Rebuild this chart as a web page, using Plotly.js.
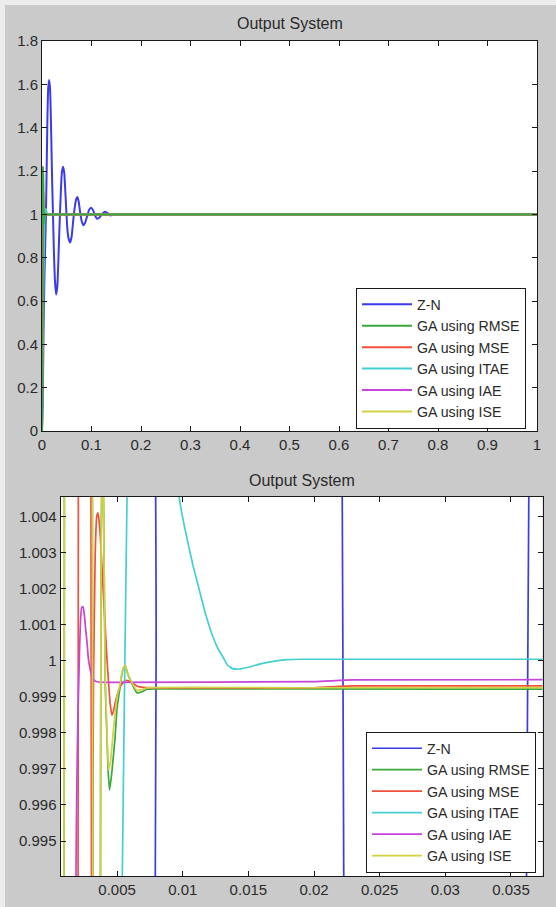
<!DOCTYPE html>
<html>
<head>
<meta charset="utf-8">
<script src="https://cdn.plot.ly/plotly-3.0.1.min.js"></script>
<style>
  html, body { margin: 0; padding: 0; background: #cacaca; }
  #chart { width: 556px; height: 907px; }
</style>
</head>
<body>
<div id="chart"></div>
<script>
// ---------------- data ----------------
const seriesNames = ["Z-N", "GA using RMSE", "GA using MSE", "GA using ITAE", "GA using IAE", "GA using ISE"];

const znT = [0, 0.0015, 0.003, 0.005, 0.0065, 0.00797, 0.0095, 0.011, 0.0125, 0.0145, 0.0165, 0.0185, 0.0205, 0.0222, 0.024, 0.026, 0.0285, 0.031, 0.033, 0.0345, 0.03628, 0.038, 0.040, 0.0425, 0.045, 0.047, 0.049, 0.051, 0.0535, 0.057, 0.060, 0.063, 0.066, 0.069, 0.0715, 0.074, 0.077, 0.080, 0.0835, 0.087, 0.091, 0.095, 0.099, 0.103, 0.107, 0.1115, 0.116, 0.121, 0.127, 0.133, 0.138, 0.142];
const znY = [0, 0.12, 0.45, 0.72, 0.86, 1.0, 1.22, 1.45, 1.58, 1.62, 1.57, 1.38, 1.15, 1.0, 0.83, 0.70, 0.63, 0.67, 0.78, 0.89, 1.0, 1.1, 1.19, 1.22, 1.19, 1.11, 1.02, 0.94, 0.89, 0.87, 0.9, 0.97, 1.03, 1.07, 1.08, 1.06, 1.01, 0.97, 0.95, 0.96, 0.99, 1.02, 1.03, 1.02, 0.995, 0.98, 0.985, 1.0, 1.012, 1.005, 0.995, 0.998];

const rmseT = [0, 0.0004, 0.0008, 0.00095, 0.0011, 0.0014, 0.0019, 0.0024, 0.0028, 0.0031, 0.00315, 0.0033, 0.0035, 0.00372, 0.00378, 0.0039, 0.00398, 0.0041, 0.0042, 0.0043, 0.00442, 0.0046, 0.00485, 0.005, 0.00523, 0.0054, 0.00561, 0.0058, 0.00612, 0.0065, 0.0069, 0.00726, 0.008, 0.03, 0.1, 0.5, 1.0];
const rmseY = [0, 0.42, 0.9, 0.985, 1.06, 1.16, 1.22, 1.18, 1.09, 1.012, 0.99, 0.955, 0.96, 0.99, 1.003, 1.006, 1.004, 0.9993, 0.9982, 0.9971, 0.99641, 0.9969, 0.99789, 0.9987, 0.99928, 0.9997, 0.99988, 0.99965, 0.99937, 0.99911, 0.99914, 0.99921, 0.99922, 0.99921, 0.99921, 0.99921, 0.99921];

const mseT = [0, 0.0005, 0.001, 0.0015, 0.0019, 0.00205, 0.0022, 0.0025, 0.0027, 0.0029, 0.003, 0.00305, 0.00309, 0.00313, 0.0032, 0.00333, 0.00345, 0.00354, 0.00362, 0.00373, 0.00385, 0.00396, 0.0041, 0.00422, 0.00435, 0.00447, 0.0046, 0.00472, 0.00485, 0.005, 0.00523, 0.0056, 0.006, 0.0065, 0.007, 0.02, 0.023, 0.1, 1.0];
const mseY = [0, 0.18, 0.42, 0.72, 0.93, 1.005, 1.06, 1.1, 1.08, 1.03, 1.008, 0.993, 0.99, 0.9945, 0.9992, 1.0029, 1.004, 1.0041, 1.0039, 1.0034, 1.0026, 1.0018, 1.0009, 1.0001, 0.9994, 0.99882, 0.99849, 0.9986, 0.99882, 0.99905, 0.99928, 0.99945, 0.99942, 0.9993, 0.99926, 0.99925, 0.9993, 0.9993, 0.9993];

const itaeT = [0, 0.001, 0.002, 0.003, 0.004, 0.0047, 0.0053, 0.0059, 0.0065, 0.0072, 0.008, 0.0087, 0.0093, 0.00973, 0.01013, 0.0108, 0.0112, 0.01148, 0.0118, 0.01229, 0.0127, 0.0131, 0.0134, 0.0138, 0.0143, 0.015, 0.016, 0.017, 0.018, 0.019, 0.03, 0.1, 0.5, 1.0];
const itaeY = [0, 0.22, 0.46, 0.67, 0.84, 0.95, 0.9911, 1.0085, 1.021, 1.026, 1.022, 1.0145, 1.0078, 1.00454, 1.00372, 1.00261, 1.00205, 1.00165, 1.00122, 1.00067, 1.00032, 1.00008, 0.99988, 0.99978, 0.99977, 0.99982, 0.99992, 0.99999, 1.00003, 1.00004, 1.00004, 1.00004, 1.00004, 1.00004];

const iaeT = [0, 0.001, 0.0016, 0.0018, 0.0019, 0.002, 0.0021, 0.0022, 0.0023, 0.0024, 0.0025, 0.0026, 0.0027, 0.0028, 0.0029, 0.0031, 0.0033, 0.0036, 0.0042, 0.02, 0.023, 0.1, 1.0];
const iaeY = [0, 0.45, 0.85, 0.99, 0.9955, 0.9982, 0.9997, 1.001, 1.00148, 1.0015, 1.0013, 1.0009, 1.00055, 1.0001, 0.99985, 0.99955, 0.99944, 0.99941, 0.9994, 0.99942, 0.99947, 0.99947, 0.99947];

const iseT = [0, 0.0004, 0.0008, 0.00095, 0.0011, 0.0014, 0.0019, 0.0024, 0.0028, 0.0031, 0.00315, 0.0033, 0.0035, 0.00372, 0.00378, 0.0039, 0.00398, 0.0041, 0.0042, 0.00434, 0.0045, 0.0047, 0.005, 0.00523, 0.0054, 0.00561, 0.0058, 0.00612, 0.0065, 0.0069, 0.00726, 0.02, 0.1, 1.0];
const iseY = [0, 0.44, 0.92, 0.99, 1.07, 1.17, 1.22, 1.18, 1.09, 1.012, 0.99, 0.955, 0.96, 0.99, 1.003, 1.006, 1.004, 0.9994, 0.9984, 0.99697, 0.9972, 0.998, 0.999, 0.99935, 0.99972, 0.99988, 0.99965, 0.9994, 0.99918, 0.9992, 0.99925, 0.99925, 0.99926, 0.99926];

const colors = ["#3b3bea", "#3aa83a", "#f0503c", "#44d0d0", "#c545d8", "#d2d244"];

const topXTicks = [0, 0.1, 0.2, 0.3, 0.4, 0.5, 0.6, 0.7, 0.8, 0.9, 1];
const topXTickText = ["0", "0.1", "0.2", "0.3", "0.4", "0.5", "0.6", "0.7", "0.8", "0.9", "1"];
const topYTicks = [0, 0.2, 0.4, 0.6, 0.8, 1, 1.2, 1.4, 1.6, 1.8];
const topYTickText = ["0", "0.2", "0.4", "0.6", "0.8", "1", "1.2", "1.4", "1.6", "1.8"];
const botXTicks = [0.005, 0.01, 0.015, 0.02, 0.025, 0.03, 0.035];
const botXTickText = ["0.005", "0.01", "0.015", "0.02", "0.025", "0.03", "0.035"];
const botYTicks = [0.995, 0.996, 0.997, 0.998, 0.999, 1, 1.001, 1.002, 1.003, 1.004];
const botYTickText = ["0.995", "0.996", "0.997", "0.998", "0.999", "1", "1.001", "1.002", "1.003", "1.004"];
const titleText = "Output System";

// ---------------- build ----------------
const W = 556, H = 907;
const allT = [znT, rmseT, mseT, itaeT, iaeT, iseT];
const allY = [znY, rmseY, mseY, itaeY, iaeY, iseY];

function mk(i, xa, ya, leg, w) {
  return {
    x: allT[i], y: allY[i], type: "scatter", mode: "lines",
    name: seriesNames[i], xaxis: xa, yaxis: ya, legend: leg,
    legendrank: i + 1, line: { color: colors[i], width: w, shape: "spline", smoothing: 0.4 },
    hoverinfo: "skip"
  };
}
const topOrder = [0, 5, 4, 3, 2, 1];
const botOrder = [0, 1, 2, 3, 4, 5];
const traces = [];
topOrder.forEach(i => traces.push(mk(i, "x", "y", "legend", 2)));
botOrder.forEach(i => traces.push(mk(i, "x2", "y2", "legend2", 1.7)));

const fnt = { family: "Liberation Sans, Arial, sans-serif", size: 15, color: "#2a2a2a" };
const legFnt = { family: "Liberation Sans, Arial, sans-serif", size: 14.2, color: "#2a2a2a" };
function ax(extra) {
  return Object.assign({
    showline: true, mirror: "ticks", linecolor: "#1a1a1a", linewidth: 1,
    ticks: "inside", ticklen: 5, tickcolor: "#1a1a1a", showgrid: false,
    zeroline: false, tickfont: fnt, tickmode: "array", fixedrange: true
  }, extra);
}
const px = v => v / W, py = v => 1 - v / H;

const layout = {
  width: W, height: H,
  margin: { l: 0, r: 0, t: 0, b: 0 },
  paper_bgcolor: "#cacaca", plot_bgcolor: "#ffffff",
  font: fnt,
  xaxis: ax({ domain: [px(42), px(537)], range: [0, 1], tickvals: topXTicks, ticktext: topXTickText, anchor: "y" }),
  yaxis: ax({ domain: [py(431), py(41)], range: [0, 1.8], tickvals: topYTicks, ticktext: topYTickText, anchor: "x" }),
  xaxis2: ax({ domain: [px(60.5), px(542.5)], range: [0.00069, 0.0374], tickvals: botXTicks, ticktext: botXTickText, anchor: "y2" }),
  yaxis2: ax({ domain: [py(876), py(497)], range: [0.99403, 1.00454], tickvals: botYTicks, ticktext: botYTickText, anchor: "x2" }),
  legend: {
    x: px(356), y: py(358), xanchor: "left", yanchor: "middle",
    bgcolor: "#ffffff", bordercolor: "#1a1a1a", borderwidth: 1,
    font: legFnt, traceorder: "normal", itemwidth: 50
  },
  legend2: {
    x: px(366), y: py(802), xanchor: "left", yanchor: "middle",
    bgcolor: "#ffffff", bordercolor: "#1a1a1a", borderwidth: 1,
    font: legFnt, traceorder: "normal", itemwidth: 50
  },
  annotations: [
    { text: titleText, xref: "paper", yref: "paper", x: px(289.5), y: py(23), showarrow: false,
      font: { family: fnt.family, size: 16, color: "#2a2a2a" }, xanchor: "center", yanchor: "middle" },
    { text: titleText, xref: "paper", yref: "paper", x: px(301.5), y: py(480), showarrow: false,
      font: { family: fnt.family, size: 16, color: "#2a2a2a" }, xanchor: "center", yanchor: "middle" }
  ],
  shapes: [
    { type: "rect", xref: "paper", yref: "paper", x0: 0, x1: 1, y0: py(5), y1: 1, line: { width: 0 }, fillcolor: "#ececec", layer: "below" },
    { type: "rect", xref: "paper", yref: "paper", x0: 0, x1: px(5), y0: 0, y1: 1, line: { width: 0 }, fillcolor: "#ececec", layer: "below" }
  ],
  showlegend: true
};

Plotly.newPlot("chart", traces, layout, { displayModeBar: false, staticPlot: true });
</script>
</body>
</html>
